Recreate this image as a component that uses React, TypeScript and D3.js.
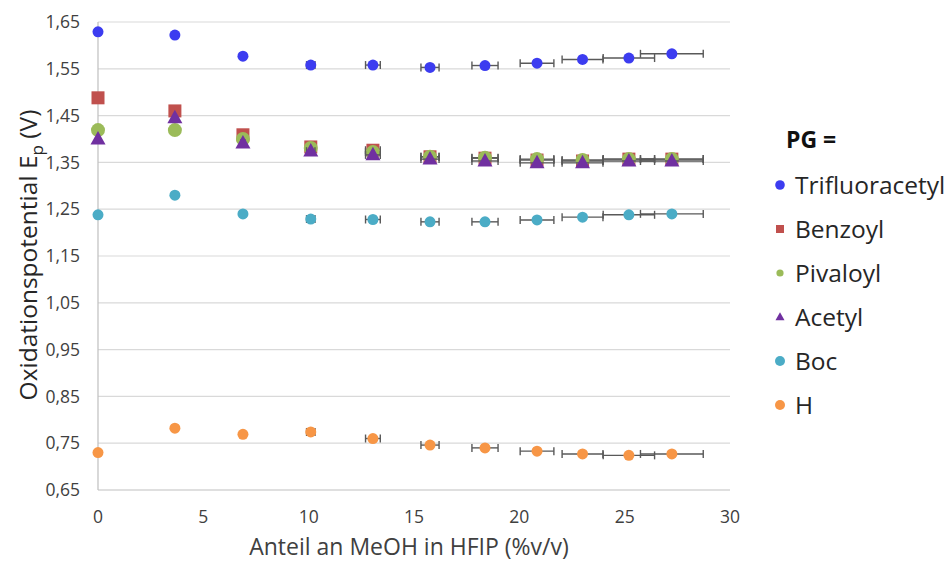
import React from "react";
import * as d3 from "d3";

const WIDTH = 948;
const HEIGHT = 563;
const PLOT = { left: 98, right: 730, top: 22, bottom: 490 };

// Anteil an MeOH in HFIP (%v/v) and its horizontal error
const xValues = [0, 3.65, 6.88, 10.1, 13.05, 15.76, 18.37, 20.84, 23.0, 25.2, 27.24];
const xErrors = [0, 0, 0.1, 0.2, 0.35, 0.43, 0.62, 0.8, 0.97, 1.22, 1.49];

const trifluoracetyl = [1.629, 1.622, 1.577, 1.558, 1.558, 1.553, 1.557, 1.562, 1.57, 1.573, 1.582];
const benzoyl = [1.488, 1.46, 1.409, 1.383, 1.376, 1.362, 1.359, 1.355, 1.353, 1.357, 1.357];
const pivaloyl = [1.419, 1.419, 1.4, 1.381, 1.372, 1.362, 1.36, 1.357, 1.355, 1.357, 1.357];
const acetyl = [1.4, 1.445, 1.391, 1.374, 1.366, 1.357, 1.353, 1.349, 1.349, 1.353, 1.353];
const boc = [1.238, 1.28, 1.24, 1.229, 1.228, 1.223, 1.223, 1.227, 1.233, 1.238, 1.24];
const hydrogen = [0.73, 0.782, 0.769, 0.774, 0.76, 0.746, 0.74, 0.733, 0.727, 0.724, 0.727];

const xTicks = [0, 5, 10, 15, 20, 25, 30];
const yTicks = [0.65, 0.75, 0.85, 0.95, 1.05, 1.15, 1.25, 1.35, 1.45, 1.55, 1.65];

const series = [
  { name: "Trifluoracetyl", values: trifluoracetyl, color: "#3c3cf0", shape: "circle", size: 5.5, legend: 4.8 },
  { name: "Benzoyl", values: benzoyl, color: "#c0504d", shape: "square", size: 6.5, legend: 4 },
  { name: "Pivaloyl", values: pivaloyl, color: "#9bbb59", shape: "circle", size: 7, legend: 3.6 },
  { name: "Acetyl", values: acetyl, color: "#7030a0", shape: "triangle", size: 7.5, legend: 4.5 },
  { name: "Boc", values: boc, color: "#4bacc6", shape: "circle", size: 5.5, legend: 5 },
  { name: "H", values: hydrogen, color: "#f79646", shape: "circle", size: 5.5, legend: 5 },
];

const FONT = "'Open Sans', 'DejaVu Sans', sans-serif";

const Marker = ({ shape, x, y, r, color }) => {
  if (shape === "square") {
    return <rect x={x - r} y={y - r} width={r * 2} height={r * 2} fill={color} />;
  }
  if (shape === "triangle") {
    const h = r * 1.8;
    return (
      <path
        d={`M${x},${y - h * 0.6} L${x + r},${y + h * 0.4} L${x - r},${y + h * 0.4} Z`}
        fill={color}
      />
    );
  }
  return <circle cx={x} cy={y} r={r} fill={color} />;
};

const App = () => {
  const xScale = d3.scaleLinear().domain([0, 30]).range([PLOT.left, PLOT.right]);
  const yScale = d3.scaleLinear().domain([0.65, 1.65]).range([PLOT.bottom, PLOT.top]);
  const fmt = (v) => d3.format(".2f")(v).replace(".", ",");

  return (
    <svg
      width={WIDTH}
      height={HEIGHT}
      style={{ position: "absolute", left: 0, top: 0, background: "#fff" }}
      fontFamily={FONT}
    >
      {/* gridlines */}
      {yTicks.map((t) => (
        <line
          key={t}
          x1={PLOT.left}
          x2={PLOT.right}
          y1={yScale(t)}
          y2={yScale(t)}
          stroke={t === 0.65 ? "#bfbfbf" : "#d9d9d9"}
          strokeWidth={1.2}
        />
      ))}
      <line x1={PLOT.left} x2={PLOT.left} y1={PLOT.top} y2={PLOT.bottom} stroke="#bfbfbf" strokeWidth={1.2} />

      {/* tick labels */}
      {yTicks.map((t) => (
        <text key={t} x={80} y={yScale(t)} dy="0.35em" textAnchor="end" fontSize={17.5} fill="#404040">
          {fmt(t)}
        </text>
      ))}
      {xTicks.map((t) => (
        <text key={t} x={xScale(t)} y={517} dy="0.35em" textAnchor="middle" fontSize={17.5} fill="#404040">
          {t}
        </text>
      ))}

      {/* series: error bars, then markers */}
      {series.map((s) => (
        <g key={s.name}>
          {s.values.map((v, i) => {
            const e = xErrors[i];
            if (!e) return null;
            const y = yScale(v);
            const x0 = xScale(xValues[i] - e);
            const x1 = xScale(xValues[i] + e);
            return (
              <g key={i} stroke="#595959" strokeWidth={1.4}>
                <line x1={x0} x2={x1} y1={y} y2={y} />
                <line x1={x0} x2={x0} y1={y - 4} y2={y + 4} />
                <line x1={x1} x2={x1} y1={y - 4} y2={y + 4} />
              </g>
            );
          })}
          {s.values.map((v, i) => (
            <Marker key={i} shape={s.shape} x={xScale(xValues[i])} y={yScale(v)} r={s.size} color={s.color} />
          ))}
        </g>
      ))}

      {/* axis titles */}
      <text
        transform={`translate(28,255) rotate(-90)`}
        textAnchor="middle"
        dy="0.35em"
        fontSize={24.5}
        fill="#262626"
      >
        Oxidationspotential E
        <tspan fontSize={17} dy={6}>p</tspan>
        <tspan dy={-6}> (V)</tspan>
      </text>
      <text x={409} y={547} dy="0.35em" textAnchor="middle" fontSize={23} fill="#404040">
        Anteil an MeOH in HFIP (%v/v)
      </text>

      {/* legend */}
      <text x={786} y={140} dy="0.35em" fontSize={23} fontWeight="bold" fill="#111">
        PG =
      </text>
      {series.map((s, i) => {
        const ly = 185 + i * 44;
        return (
          <g key={s.name}>
            <Marker shape={s.shape} x={780} y={ly} r={s.legend} color={s.color} />
            <text x={795} y={ly} dy="0.35em" fontSize={24.5} fill="#262626">
              {s.name}
            </text>
          </g>
        );
      })}
    </svg>
  );
};

export default App;
